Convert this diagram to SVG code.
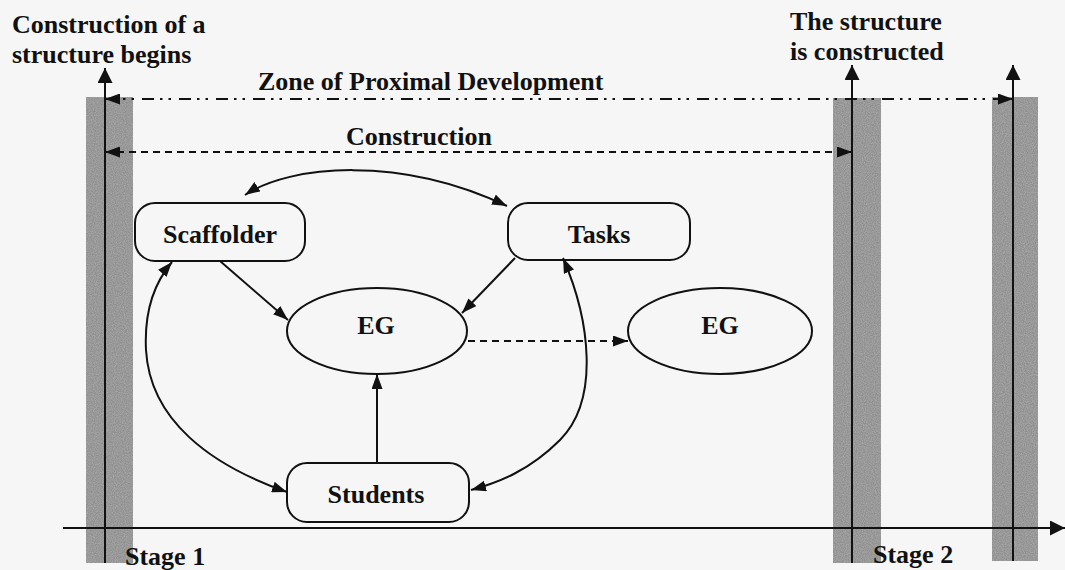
<svg xmlns="http://www.w3.org/2000/svg" width="1065" height="570" viewBox="0 0 1065 570">
<style>
text{font-family:"Liberation Serif","Times New Roman",serif;font-weight:bold;font-size:26px;fill:#111}
.node{fill:none;stroke:#111;stroke-width:2}
.bar{fill:#8f8f8f}
.ln{stroke:#111;stroke-width:2;fill:none}
.zpd{stroke-dasharray:12 6 2.5 6 2.5 8}
.dash{stroke-dasharray:7 5}
.mid{text-anchor:middle}
</style>
<defs>
<marker id="ah" markerUnits="userSpaceOnUse" markerWidth="15" markerHeight="11" refX="15" refY="5.5" orient="auto-start-reverse"><path d="M0,0 L15,5.5 L0,11 z" fill="#111"/></marker>
<marker id="ahb" markerUnits="userSpaceOnUse" markerWidth="15" markerHeight="15" refX="15" refY="7.5" orient="auto-start-reverse"><path d="M0,0 L15,7.5 L0,15 z" fill="#111"/></marker>
<filter id="grain" x="0" y="0" width="100%" height="100%">
<feTurbulence type="fractalNoise" baseFrequency="0.9" numOctaves="2" seed="3" result="n"/>
<feColorMatrix in="n" type="matrix" values="0 0 0 0 0.45  0 0 0 0 0.45  0 0 0 0 0.45  0 0 0 1.2 -0.35" result="g"/>
<feComposite in="g" in2="SourceGraphic" operator="atop"/>
</filter>
</defs>
<rect width="1065" height="570" fill="#f6f6f6"/>
<g id="bars" filter="url(#grain)">
<rect class="bar" x="86" y="97" width="47" height="466"/>
<rect class="bar" x="833" y="98" width="48" height="465"/>
<rect class="bar" x="992" y="97" width="46" height="464"/>
</g>
<g id="axes">
<line class="ln" x1="105" y1="563" x2="105" y2="68" marker-end="url(#ahb)"/>
<line class="ln" x1="852" y1="563" x2="852" y2="65" marker-end="url(#ahb)"/>
<line class="ln" x1="1013" y1="561" x2="1013" y2="65" marker-end="url(#ahb)"/>
<line class="ln" x1="63" y1="528" x2="1065" y2="528" marker-end="url(#ahb)"/>
</g>
<g id="labels">
<text x="12" y="33">Construction of a</text>
<text x="12" y="63">structure begins</text>
<text x="790" y="30">The structure</text>
<text x="790" y="60">is constructed</text>
<text x="258" y="90">Zone of Proximal Development</text>
<text x="346" y="145">Construction</text>
<text x="125" y="565">Stage 1</text>
<text x="873" y="563">Stage 2</text>
</g>
<g id="connectors">
<line class="ln zpd" x1="105" y1="99" x2="1013" y2="99" marker-start="url(#ah)" marker-end="url(#ah)"/>
<line class="ln dash" x1="105" y1="152" x2="852" y2="152" marker-start="url(#ah)" marker-end="url(#ah)"/>
<path class="ln" d="M245 195 C290 165,400 155,507 206" marker-start="url(#ah)" marker-end="url(#ah)"/>
<line class="ln" x1="220" y1="261" x2="288" y2="320" marker-end="url(#ah)"/>
<line class="ln" x1="515" y1="258" x2="462" y2="313" marker-end="url(#ah)"/>
<line class="ln dash" x1="468" y1="341" x2="628" y2="341" marker-end="url(#ah)"/>
<line class="ln" x1="377" y1="463" x2="377" y2="374" marker-end="url(#ah)"/>
<path class="ln" d="M172 262 C155 282,144 310,146 350 C150 420,210 465,287 492" marker-start="url(#ah)" marker-end="url(#ah)"/>
<path class="ln" d="M563 258 C590 320,600 400,560 440 C530 470,500 482,471 490" marker-start="url(#ah)" marker-end="url(#ah)"/>
</g>
<g id="scaffolder">
<rect class="node" x="135" y="203" width="170" height="58" rx="20"/>
<text class="mid" x="220" y="243">Scaffolder</text>
</g>
<g id="tasks">
<rect class="node" x="508" y="203" width="182" height="57" rx="20"/>
<text class="mid" x="599" y="243">Tasks</text>
</g>
<g id="eg1">
<ellipse class="node" cx="377" cy="331" rx="90" ry="43"/>
<text class="mid" x="376" y="334">EG</text>
</g>
<g id="eg2">
<ellipse class="node" cx="720" cy="331" rx="92" ry="43"/>
<text class="mid" x="720" y="334">EG</text>
</g>
<g id="students">
<rect class="node" x="287" y="463" width="182" height="59" rx="20"/>
<text class="mid" x="376" y="503">Students</text>
</g>
</svg>
